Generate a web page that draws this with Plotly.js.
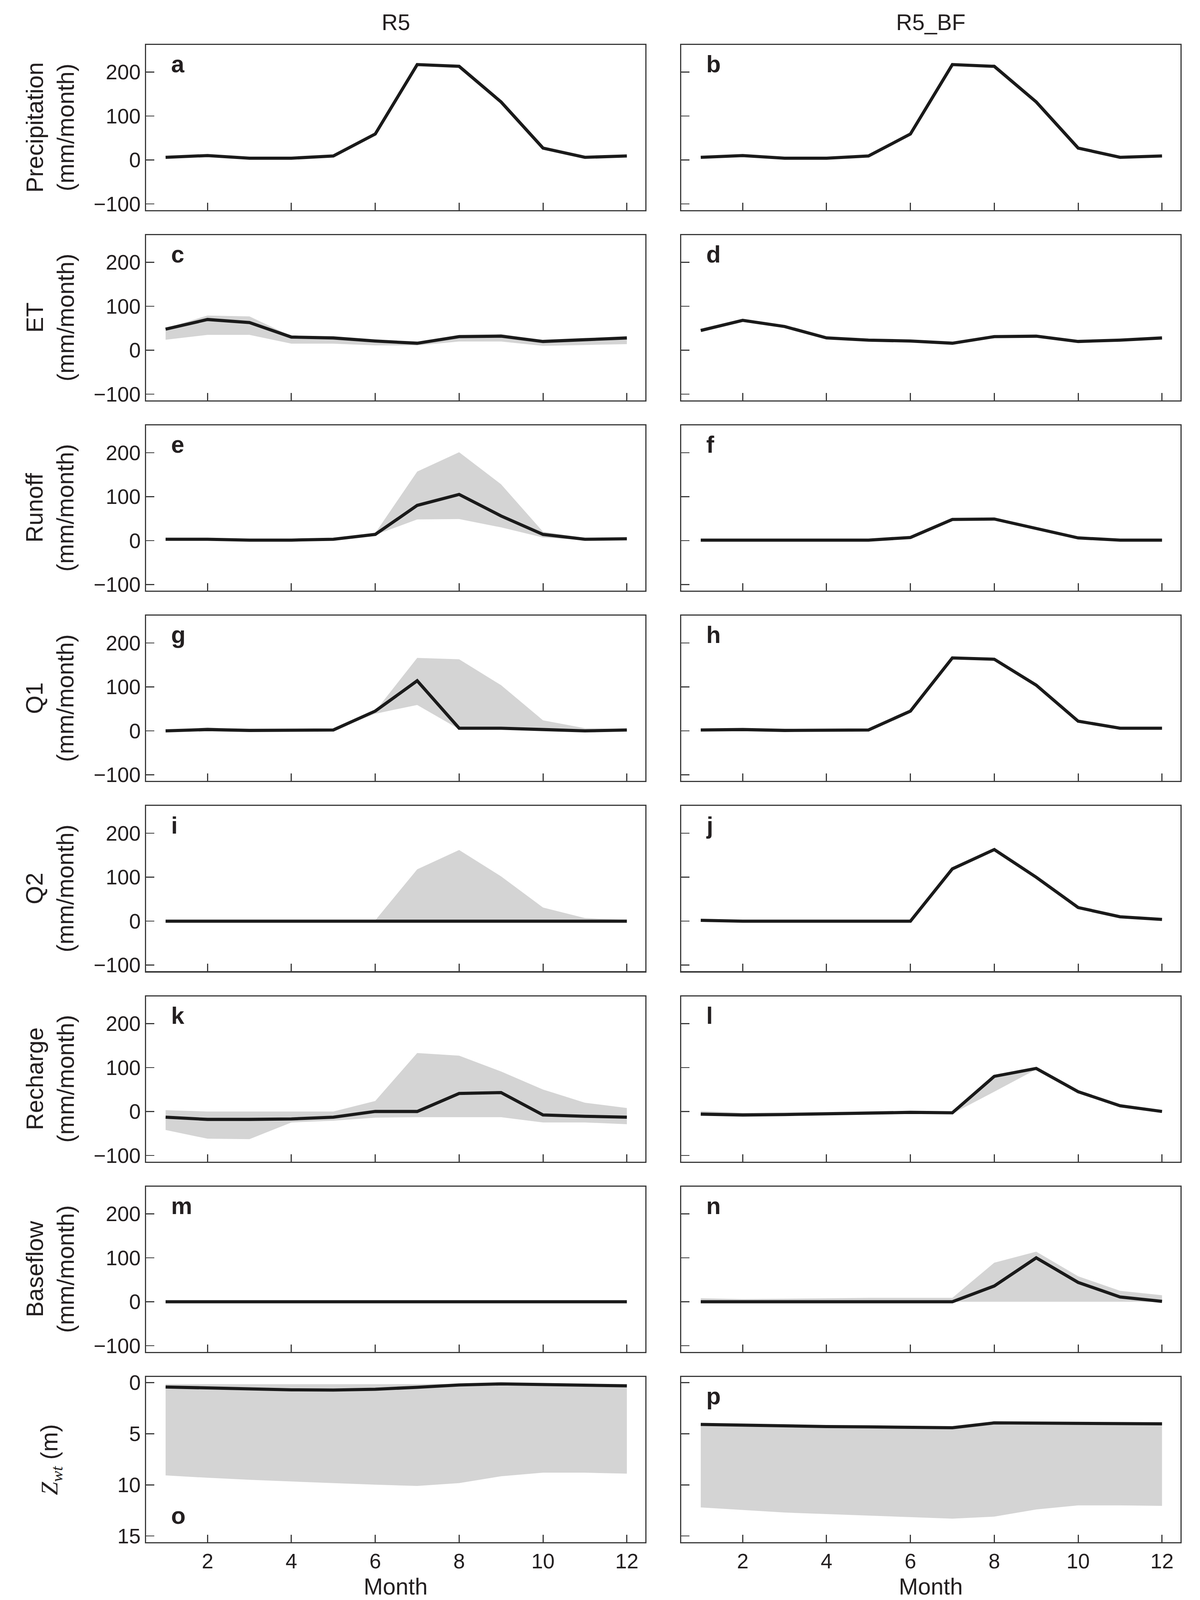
<!DOCTYPE html>
<html>
<head>
<meta charset="utf-8">
<script src="https://cdn.plot.ly/plotly-3.0.1.min.js"></script>
<style>html,body{margin:0;padding:0;background:#fff;overflow:hidden}</style>
</head>
<body>
<div id="chart"></div>
<script>
// ---------------- data ----------------
const months = [1, 2, 3, 4, 5, 6, 7, 8, 9, 10, 11, 12];
const xTickVals = [2, 4, 6, 8, 10, 12];
const fluxTickVals = [-100, 0, 100, 200];
const zwtTickVals = [0, 5, 10, 15];
const columnTitles = ['R5', 'R5_BF'];
const panelLetters = ['a','b','c','d','e','f','g','h','i','j','k','l','m','n','o','p'];
const rowLabels = ['Precipitation<br>(mm/month)', 'ET<br>(mm/month)', 'Runoff<br>(mm/month)',
  'Q1<br>(mm/month)', 'Q2<br>(mm/month)', 'Recharge<br>(mm/month)', 'Baseflow<br>(mm/month)',
  '<span style="font-family:\'Liberation Serif\',serif"><i>Z</i><sub><i>wt</i></sub></span> (m)'];

const precipR5 = [6, 10, 4, 4, 9, 59, 217, 213, 132, 27, 6, 9];
const precipBF = [6, 10, 4, 4, 9, 59, 217, 213, 132, 27, 6, 9];

const etR5 = [48, 70, 63, 30, 28, 21, 16, 31, 32, 20, 24, 28];
const etR5Hi = [50, 79, 77, 32, 31, 24, 18, 35, 37, 22, 26, 31];
const etR5Lo = [24, 35, 35, 15, 15, 11, 11, 20, 20, 10, 12, 14];
const etBF = [45, 68, 54, 28, 23, 21, 16, 31, 32, 20, 23, 28];

const runoffR5 = [3, 3, 1, 1, 3, 14, 80, 105, 56, 14, 3, 4];
const runoffR5Hi = [4, 4, 2, 2, 4, 17, 157, 201, 128, 20, 6, 7];
const runoffR5Lo = [2, 2, 0, 0, 2, 13, 48, 49, 30, 7, 1, 3];
const runoffBF = [1, 1, 0, 0, 1, 7, 48, 49, 27, 6, 1, 1];

const q1R5 = [0, 3, 1, 1, 2, 45, 114, 6, 6, 3, 0, 2];
const q1R5Hi = [1, 8, 2, 2, 3, 45, 166, 163, 104, 24, 6, 4];
const q1R5Lo = [0, 2, 0, 0, 1, 39, 59, 4, 3, 1, 0, 1];
const q1BF = [2, 3, 1, 1, 2, 45, 166, 163, 104, 22, 6, 6];

const q2R5 = [0, 0, 0, 0, 0, 0, 0, 0, 0, 0, 0, 0];
const q2R5Hi = [0, 0, 0, 0, 0, 2, 118, 162, 102, 31, 7, 3];
const q2R5Lo = [0, 0, 0, 0, 0, 0, 0, 0, 0, 0, 0, 0];
const q2BF = [2, 0, 0, 0, 0, 0, 119, 163, 100, 31, 10, 4];

const rechR5 = [-13, -18, -18, -17, -13, 0, 0, 41, 43, -8, -11, -13];
const rechR5Hi = [3, 0, 0, 0, 0, 24, 133, 127, 91, 50, 20, 8];
const rechR5Lo = [-42, -62, -63, -25, -21, -14, -13, -13, -13, -25, -25, -29];
const rechBF = [-6, -8, -7, -5, -3, -2, -3, 80, 98, 45, 13, 0];
const rechBFHi = [1, -3, -2, -1, 0, 1, 0, 82, 100, 47, 16, 4];
const rechBFLo = [-8, -10, -9, -7, -5, -4, -5, 45, 96, 42, 10, -2];

const baseR5 = [0, 0, 0, 0, 0, 0, 0, 0, 0, 0, 0, 0];
const baseBF = [0, 0, 0, 0, 0, 0, 0, 36, 100, 44, 11, 1];
const baseBFHi = [8, 6, 7, 8, 9, 9, 9, 89, 114, 58, 25, 15];
const baseBFLo = [0, 0, 0, 0, 0, 0, 0, 0, 0, 0, 0, 0];

const zwtR5 = [0.42, 0.52, 0.64, 0.70, 0.72, 0.64, 0.45, 0.22, 0.12, 0.18, 0.25, 0.31];
const zwtR5Hi = [0.15, 0.15, 0.15, 0.15, 0.15, 0.15, 0.15, 0.12, 0.05, 0.08, 0.12, 0.15];
const zwtR5Lo = [9.07, 9.3, 9.5, 9.67, 9.82, 9.97, 10.1, 9.82, 9.15, 8.8, 8.8, 8.9];
const zwtBF = [4.08, 4.17, 4.23, 4.29, 4.32, 4.35, 4.41, 3.93, 3.96, 3.97, 3.99, 4.02];
const zwtBFHi = [4.08, 4.17, 4.23, 4.29, 4.32, 4.35, 4.41, 3.93, 3.96, 3.97, 3.99, 4.02];
const zwtBFLo = [12.2, 12.45, 12.7, 12.85, 13.0, 13.15, 13.3, 13.1, 12.4, 12.0, 12.0, 12.05];

const panels = [
  [{line: precipR5}, {line: precipBF}],
  [{line: etR5, lo: etR5Lo, hi: etR5Hi}, {line: etBF}],
  [{line: runoffR5, lo: runoffR5Lo, hi: runoffR5Hi}, {line: runoffBF}],
  [{line: q1R5, lo: q1R5Lo, hi: q1R5Hi}, {line: q1BF}],
  [{line: q2R5, lo: q2R5Lo, hi: q2R5Hi}, {line: q2BF}],
  [{line: rechR5, lo: rechR5Lo, hi: rechR5Hi}, {line: rechBF, lo: rechBFLo, hi: rechBFHi}],
  [{line: baseR5}, {line: baseBF, lo: baseBFLo, hi: baseBFHi}],
  [{line: zwtR5, lo: zwtR5Lo, hi: zwtR5Hi}, {line: zwtBF, lo: zwtBFLo, hi: zwtBFHi}]
];

// ---------------- layout geometry (reference pixels, fitted to the window) ----------------
const REF_W = 3072, REF_H = 5142;
const W = window.innerWidth || REF_W, H = window.innerHeight || REF_H;
const sx = W / REF_W, sy = H / REF_H;
const sf = Math.sqrt(sx * sy);          // size factor for fonts and stroke widths
const colLeft = [374, 1744], colWidth = 1278;
const rowTop0 = 144, rowStep = 611.6, rowH = 531;
const FONT = "'Liberation Sans', Arial, Helvetica, sans-serif";
const TXT = '#231f20';
const AX = '#3a3a3a';

const traces = [];
const layout = {
  width: W, height: H,
  margin: {l: 0, r: 0, t: 0, b: 0},
  paper_bgcolor: '#fff', plot_bgcolor: '#fff',
  showlegend: false,
  font: {family: FONT, color: TXT, size: 60 * sf},
  annotations: []
};

function px2x(p) { return p / REF_W; }
function px2y(p) { return 1 - p / REF_H; }
// reference-pixel offset from baseline to the visual middle of a text line of a given font size
function midOff(size) { return 0.3465 * size * sf / sy; }

for (let r = 0; r < 8; r++) {
  const top = rowTop0 + rowStep * r;
  const bot = top + rowH;
  const isZ = (r === 7);
  for (let c = 0; c < 2; c++) {
    const idx = r * 2 + c + 1;
    const xn = 'x' + (idx === 1 ? '' : idx), yn = 'y' + (idx === 1 ? '' : idx);
    const xk = 'xaxis' + (idx === 1 ? '' : idx), yk = 'yaxis' + (idx === 1 ? '' : idx);
    layout[xk] = {
      domain: [px2x(colLeft[c]), px2x(colLeft[c] + colWidth)],
      anchor: yn, range: [0.535, 12.44], tickvals: xTickVals,
      ticks: 'inside', ticklen: 24 * sy, tickwidth: 3 * sx, tickcolor: AX,
      showline: true, linecolor: AX, linewidth: 3.5 * sf, mirror: true,
      showgrid: false, zeroline: false, showticklabels: isZ,
      tickfont: {size: 60 * sf, family: FONT, color: TXT}, fixedrange: true
    };
    layout[yk] = {
      domain: [px2y(bot), px2y(top)],
      anchor: xn,
      range: isZ ? [15.6, -0.56] : [-114, 262],
      tickvals: isZ ? zwtTickVals : fluxTickVals,
      ticks: 'inside', ticklen: 21 * sx, tickwidth: 3 * sy, tickcolor: AX,
      showline: true, linecolor: AX, linewidth: 3.5 * sf, mirror: true,
      showgrid: false, zeroline: false, showticklabels: c === 0,
      tickfont: {size: 60 * sf, family: FONT, color: TXT}, fixedrange: true
    };
    const p = panels[r][c];
    if (p.lo && p.hi) {
      traces.push({x: months, y: p.lo, xaxis: xn, yaxis: yn, mode: 'lines',
        line: {width: 0, color: 'rgba(0,0,0,0)'}, hoverinfo: 'skip'});
      traces.push({x: months, y: p.hi, xaxis: xn, yaxis: yn, mode: 'lines', fill: 'tonexty',
        fillcolor: '#d4d4d4', line: {width: 0, color: 'rgba(0,0,0,0)'}, hoverinfo: 'skip'});
    }
    traces.push({x: months, y: p.line, xaxis: xn, yaxis: yn, mode: 'lines',
      line: {color: '#1a1a1a', width: 9 * sf}});

    const letterBase = (r === 7 && c === 0) ? bot - 59 : top + 88;
    layout.annotations.push({
      text: '<b>' + panelLetters[idx - 1] + '</b>', xref: 'paper', yref: 'paper',
      x: px2x(colLeft[c] + 62), y: px2y(letterBase - midOff(68)), xanchor: 'left', yanchor: 'middle',
      showarrow: false, font: {size: 68 * sf, family: FONT, color: TXT}
    });
  }
  layout.annotations.push({
    text: rowLabels[r], xref: 'paper', yref: 'paper',
    x: px2x(isZ ? 131 : 128), y: px2y(top + rowH / 2), xanchor: 'center', yanchor: 'middle',
    textangle: -90, showarrow: false, font: {size: 68 * sf, family: FONT, color: TXT}
  });
}

for (let c = 0; c < 2; c++) {
  layout.annotations.push({
    text: columnTitles[c], xref: 'paper', yref: 'paper',
    x: px2x(colLeft[c] + colWidth / 2), y: px2y(96 - midOff(64)), xanchor: 'center', yanchor: 'middle',
    showarrow: false, font: {size: 64 * sf, family: FONT, color: TXT}
  });
  layout.annotations.push({
    text: 'Month', xref: 'paper', yref: 'paper',
    x: px2x(colLeft[c] + colWidth / 2), y: px2y(5124 - midOff(66)), xanchor: 'center', yanchor: 'middle',
    showarrow: false, font: {size: 66 * sf, family: FONT, color: TXT}
  });
}

Plotly.newPlot('chart', traces, layout, {displayModeBar: false, staticPlot: true});
</script>
</body>
</html>
